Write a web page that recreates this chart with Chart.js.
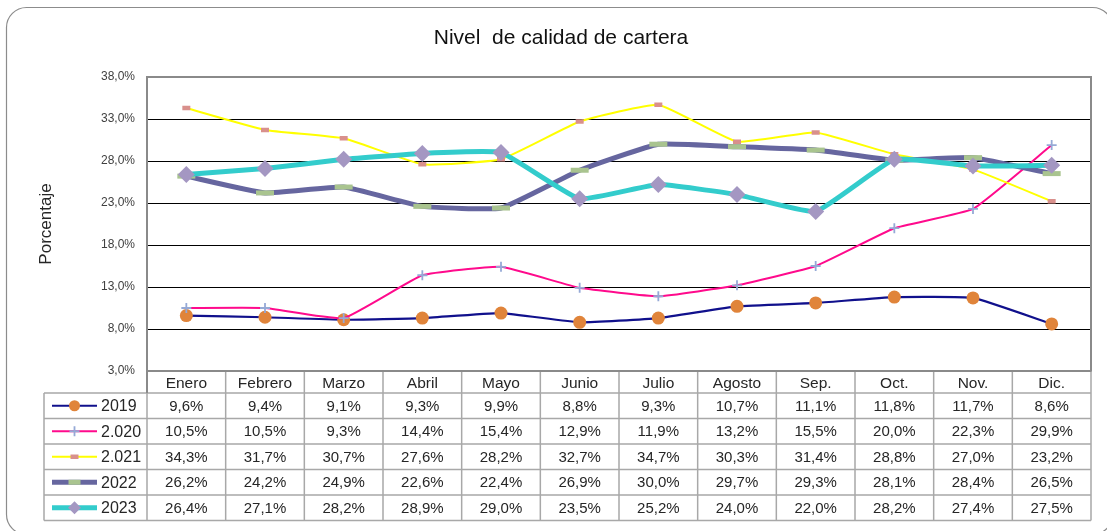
<!DOCTYPE html>
<html>
<head>
<meta charset="utf-8">
<script src="https://cdn.jsdelivr.net/npm/chart.js@4.4.1/dist/chart.umd.min.js"></script>
<style>
html,body{margin:0;padding:0;background:#fff;}
canvas{display:block;}
</style>
</head>
<body>
<canvas id="c" width="1107" height="531"></canvas>
<script>
// ---- data ----
const categories = ["Enero","Febrero","Marzo","Abril","Mayo","Junio","Julio","Agosto","Sep.","Oct.","Nov.","Dic."];
const seriesNames = ["2019","2.020","2.021","2022","2023"];
const v2019 = [9.6, 9.4, 9.1, 9.3, 9.9, 8.8, 9.3, 10.7, 11.1, 11.8, 11.7, 8.6];
const v2020 = [10.5, 10.5, 9.3, 14.4, 15.4, 12.9, 11.9, 13.2, 15.5, 20.0, 22.3, 29.9];
const v2021 = [34.3, 31.7, 30.7, 27.6, 28.2, 32.7, 34.7, 30.3, 31.4, 28.8, 27.0, 23.2];
const v2022 = [26.2, 24.2, 24.9, 22.6, 22.4, 26.9, 30.0, 29.7, 29.3, 28.1, 28.4, 26.5];
const v2023 = [26.4, 27.1, 28.2, 28.9, 29.0, 23.5, 25.2, 24.0, 22.0, 28.2, 27.4, 27.5];
const yTicks = [3, 8, 13, 18, 23, 28, 33, 38];

const fmt = v => v.toFixed(1).replace('.', ',') + '%';
const FONT = '"Liberation Sans", Arial, sans-serif';

const styles = [
  {line:'#10108c', width:2.2, pStyle:'circle', pr:6.5, pbg:'#e0843a', pbc:'#e0843a', pbw:0, lr:5.5},
  {line:'#ff0a8c', width:2, pStyle:'cross', pr:5, pbg:'#95a9d6', pbc:'#95a9d6', pbw:1.8, lr:5},
  {line:'#ffff00', width:2, pStyle:'line', pr:4, pbg:'#d9908c', pbc:'#d9908c', pbw:4.5, lr:4},
  {line:'#66669f', width:5, pStyle:'line', pr:9, pbg:'#a9c48f', pbc:'#a9c48f', pbw:5, lr:6},
  {line:'#33cccc', width:5, pStyle:'rectRot', pr:8.5, pbg:'#a497c2', pbc:'#a497c2', pbw:0, lr:6.5}
];
const allValues = [v2019, v2020, v2021, v2022, v2023];

const datasets = allValues.map((vals, i) => ({
  label: seriesNames[i],
  data: vals,
  borderColor: styles[i].line,
  borderWidth: styles[i].width,
  pointStyle: styles[i].pStyle,
  pointRadius: styles[i].pr,
  pointHoverRadius: styles[i].pr,
  pointBackgroundColor: styles[i].pbg,
  pointBorderColor: styles[i].pbc,
  pointBorderWidth: styles[i].pbw,
  tension: 0.12,
  fill: false,
  order: 5 - i
}));

const frame = {
  id: 'frame',
  beforeDraw(chart) {
    const ctx = chart.ctx;
    ctx.save();
    ctx.fillStyle = '#fff';
    ctx.fillRect(0, 0, chart.width, chart.height);
    // outer rounded border
    ctx.strokeStyle = '#8c8c8c';
    ctx.lineWidth = 1.2;
    ctx.beginPath();
    ctx.roundRect(6.5, 7.5, 1106, 527, 20);
    ctx.stroke();
    // title
    ctx.fillStyle = '#111';
    ctx.font = '21px ' + FONT;
    ctx.textAlign = 'center';
    ctx.textBaseline = 'middle';
    ctx.fillText('Nivel  de calidad de cartera', 561, 38);
    ctx.restore();
  },
  beforeDatasetsDraw(chart) {
    const {ctx, chartArea: a} = chart;
    ctx.save();
    ctx.strokeStyle = '#8a8a8a';
    ctx.lineWidth = 2;
    ctx.strokeRect(a.left, a.top, a.right - a.left, a.bottom - a.top);
    ctx.restore();
  },
  afterDraw(chart) {
    const {ctx, chartArea: a} = chart;
    const xs = chart.scales.x;
    const n = categories.length;
    const colW = (a.right - a.left) / n;
    const headTop = a.bottom;
    const tTop = 393;
    const rowH = 25.5;
    const tBot = tTop + rowH * seriesNames.length;
    const legL = 44;
    ctx.save();
    ctx.strokeStyle = '#a8a8a8';
    ctx.lineWidth = 1.5;
    ctx.beginPath();
    for (let k = 0; k <= n; k++) {
      const x = a.left + k * colW;
      ctx.moveTo(x, headTop);
      ctx.lineTo(x, tBot);
    }
    ctx.moveTo(legL, tTop);
    ctx.lineTo(legL, tBot);
    for (let r = 0; r <= seriesNames.length; r++) {
      const y = tTop + r * rowH;
      ctx.moveTo(legL, y);
      ctx.lineTo(a.right, y);
    }
    ctx.stroke();
    ctx.strokeStyle = '#8a8a8a';
    ctx.lineWidth = 2;
    ctx.beginPath();
    ctx.moveTo(a.left, a.bottom);
    ctx.lineTo(a.right, a.bottom);
    ctx.moveTo(a.left, a.bottom);
    ctx.lineTo(a.left, tTop);
    ctx.stroke();

    ctx.fillStyle = '#262626';
    ctx.font = '15px ' + FONT;
    ctx.textAlign = 'center';
    ctx.textBaseline = 'middle';
    allValues.forEach((vals, r) => {
      const yc = tTop + r * rowH + rowH / 2 + 1;
      vals.forEach((v, i) => {
        ctx.fillText(fmt(v), xs.getPixelForValue(i), yc);
      });
    });
    seriesNames.forEach((name, r) => {
      const yc = tTop + r * rowH + rowH / 2;
      const st = styles[r];
      ctx.strokeStyle = st.line;
      ctx.lineWidth = st.width;
      ctx.lineCap = 'butt';
      ctx.beginPath();
      ctx.moveTo(52, yc);
      ctx.lineTo(97, yc);
      ctx.stroke();
      ctx.fillStyle = st.pbg;
      ctx.strokeStyle = st.pbc;
      ctx.lineWidth = st.pbw;
      Chart.helpers.drawPoint(ctx, {pointStyle: st.pStyle, radius: st.lr, borderWidth: st.pbw, rotation: 0}, 74.5, yc);
      ctx.fillStyle = '#262626';
      ctx.font = '16px ' + FONT;
      ctx.textAlign = 'left';
      ctx.fillText(name, 101, yc + 1);
    });
    ctx.restore();
  }
};

new Chart(document.getElementById('c'), {
  type: 'line',
  data: { labels: categories, datasets },
  plugins: [frame],
  options: {
    responsive: false,
    devicePixelRatio: 1,
    animation: false,
    layout: { padding: { top: 77, left: 31, right: 16, bottom: 138 } },
    plugins: { legend: { display: false }, title: { display: false }, tooltip: { enabled: false } },
    scales: {
      x: {
        offset: true,
        grid: { display: false, drawTicks: false },
        border: { display: false },
        ticks: { color: '#262626', font: { family: FONT, size: 15.5 }, padding: 3, maxRotation: 0, autoSkip: false },
        afterFit(s) { s.height = 22; }
      },
      y: {
        min: 3, max: 38,
        afterBuildTicks(s) { s.ticks = yTicks.map(v => ({ value: v })); },
        grid: {
          drawTicks: false,
          lineWidth: 1,
          color: c => (c.tick && (c.tick.value === 38 || c.tick.value === 3)) ? 'rgba(0,0,0,0)' : '#000'
        },
        border: { display: false },
        ticks: { color: '#404040', font: { family: FONT, size: 12 }, padding: 12, callback: v => fmt(v) },
        title: { display: true, text: 'Porcentaje', color: '#262626', font: { family: FONT, size: 17 }, padding: { top: 5, bottom: 0 } },
        afterFit(s) { s.width = 116; }
      }
    }
  }
});
</script>
</body>
</html>
